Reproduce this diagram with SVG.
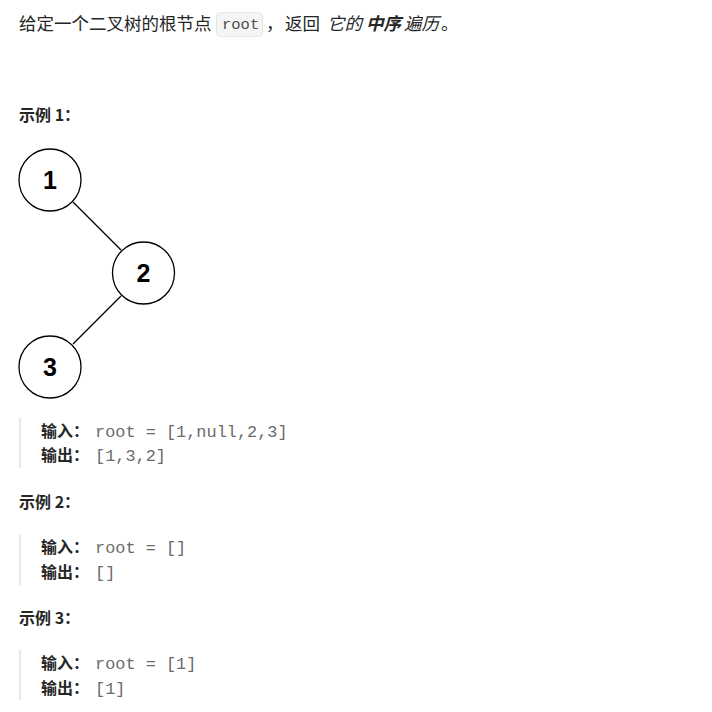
<svg xmlns="http://www.w3.org/2000/svg" width="712" height="712" viewBox="0 0 712 712">
<style>
.t{font-family:"Noto Sans CJK SC","Noto Sans",sans-serif;font-size:17.5px;fill:#262626}
.h{font-family:"Noto Sans CJK SC","Noto Sans",sans-serif;font-size:16px;font-weight:bold;fill:#262626}
.c{font-family:"Liberation Mono","DejaVu Sans Mono",monospace;font-size:16.9px;fill:#6b6b6b}
.it{font-style:italic}
.b{font-weight:bold}
.bar{fill:#e8e8e8}
.node circle{fill:#ffffff;stroke:#000000;stroke-width:1.3}
.node text{font-family:"Liberation Sans",Arial,sans-serif;font-size:25px;font-weight:bold;fill:#000000;text-anchor:middle}
.edge{stroke:#000000;stroke-width:1.3;fill:none}
</style>
<rect width="712" height="712" fill="#ffffff"/>
<g id="title">
<text class="t" x="19" y="30">给定一个二叉树的根节点</text>
<rect x="216.5" y="12.5" width="46" height="24" rx="4" fill="#f5f5f5" stroke="#e6e6e6"/>
<text x="222" y="29" style="font-family:'Liberation Mono','DejaVu Sans Mono',monospace;font-size:15.5px;fill:#4d4d4d">root</text>
<text class="t" x="266" y="30">，</text>
<text class="t" x="285" y="30">返回</text>
<text class="t it" x="327" y="30">它的</text>
<text class="t it b" x="366" y="30">中序</text>
<text class="t it" x="404" y="30">遍历</text>
<text class="t" x="441" y="30">。</text>
</g>
<text class="h" x="19" y="121">示例 1：</text>
<g id="connectors">
<line class="edge" x1="73" y1="202" x2="121" y2="250"/>
<line class="edge" x1="121" y1="296" x2="73" y2="344"/>
</g>
<g id="node1" class="node"><circle cx="50" cy="180" r="31"/><text x="50" y="189">1</text></g>
<g id="node2" class="node"><circle cx="143.5" cy="273" r="31"/><text x="143.5" y="282">2</text></g>
<g id="node3" class="node"><circle cx="50" cy="367" r="31"/><text x="50" y="376">3</text></g>
<g id="ex1">
<rect class="bar" x="19" y="418" width="2" height="50"/>
<text class="h" x="41" y="437">输入：</text>
<text class="c" x="95" y="437">root = [1,null,2,3]</text>
<text class="h" x="41" y="461">输出：</text>
<text class="c" x="95" y="461">[1,3,2]</text>
</g>
<text class="h" x="19" y="508">示例 2：</text>
<g id="ex2">
<rect class="bar" x="19" y="535" width="2" height="50"/>
<text class="h" x="41" y="553">输入：</text>
<text class="c" x="95" y="553">root = []</text>
<text class="h" x="41" y="578">输出：</text>
<text class="c" x="95" y="578">[]</text>
</g>
<text class="h" x="19" y="624">示例 3：</text>
<g id="ex3">
<rect class="bar" x="19" y="650" width="2" height="50"/>
<text class="h" x="41" y="669">输入：</text>
<text class="c" x="95" y="669">root = [1]</text>
<text class="h" x="41" y="694">输出：</text>
<text class="c" x="95" y="694">[1]</text>
</g>
</svg>
